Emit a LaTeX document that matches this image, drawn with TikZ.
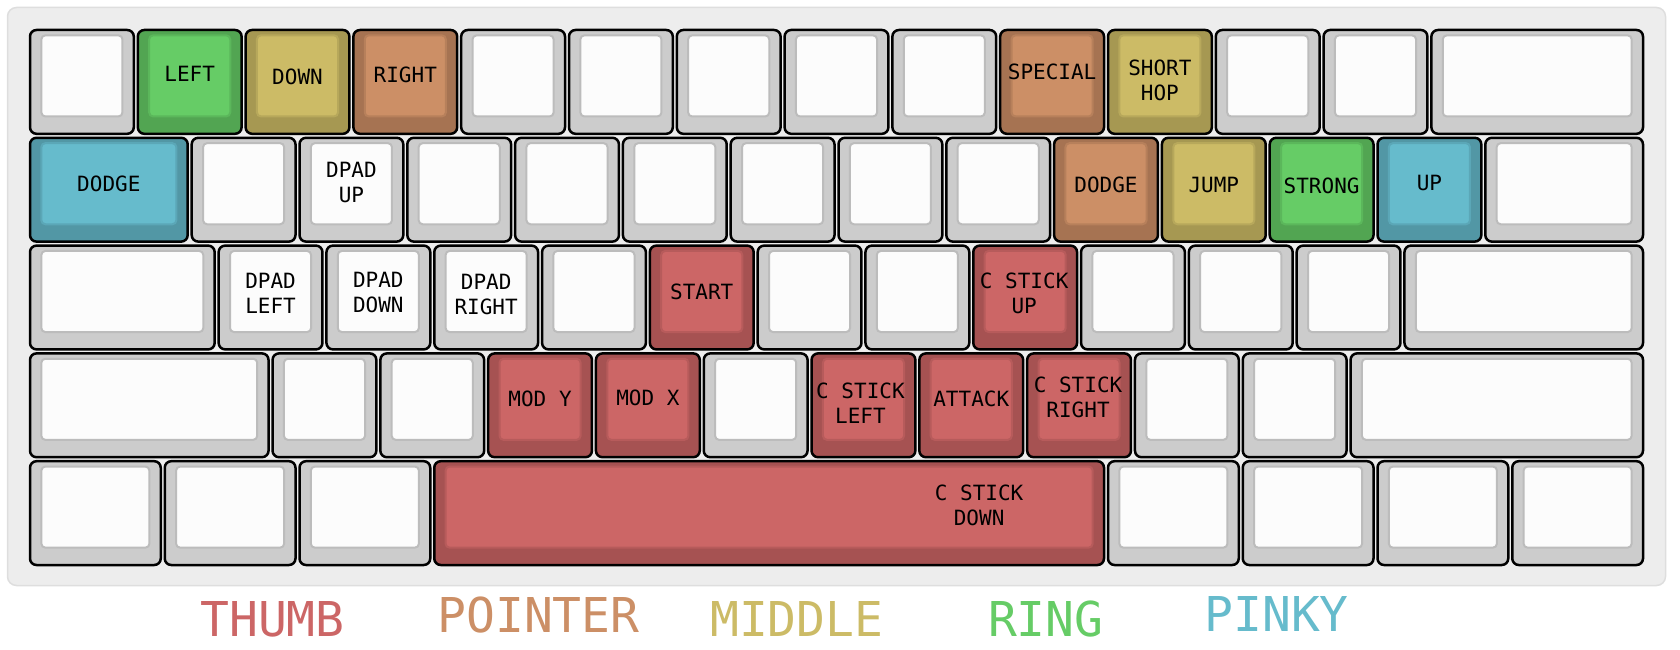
\documentclass[tikz,border=0pt]{standalone}
\usepackage{fontspec}
\newfontfamily\keyfont{DejaVu Sans Mono}

% finger colours: face, side, edge of the face
\definecolor{blankface}{HTML}{FCFCFC}
\definecolor{blankside}{HTML}{CCCCCC}
\definecolor{blankedge}{HTML}{BCBCBC}
\definecolor{thumbface}{HTML}{CC6666}
\definecolor{thumbside}{HTML}{A65252}
\colorlet{thumbedge}{thumbside!55!thumbface}
\definecolor{pointerface}{HTML}{CC8F66}
\definecolor{pointerside}{HTML}{A67352}
\colorlet{pointeredge}{pointerside!55!pointerface}
\definecolor{middleface}{HTML}{CCBB66}
\definecolor{middleside}{HTML}{A69852}
\colorlet{middleedge}{middleside!55!middleface}
\definecolor{ringface}{HTML}{66CC66}
\definecolor{ringside}{HTML}{52A552}
\colorlet{ringedge}{ringside!55!ringface}
\definecolor{pinkyface}{HTML}{66BBCC}
\definecolor{pinkyside}{HTML}{5297A5}
\colorlet{pinkyedge}{pinkyside!55!pinkyface}

% \kbkey[label shift]{name}{column}{row}{width}{finger}{label}
\newcommand{\kbkey}[7][]{%
  \pgfmathsetmacro{\kbx}{28+#3*107.8+2}%
  \pgfmathsetmacro{\kby}{28+#4*107.8+2}%
  \pgfmathsetmacro{\kbw}{#5*107.8-4}%
  \pgfmathsetmacro{\kbf}{\kbw-22.7}%
  \node[keycap, fill=#6side, minimum width=\kbw pt, anchor=north west] (#2) at (\kbx,\kby) {};%
  \node[keyface, fill=#6face, draw=#6edge, minimum width=\kbf pt, anchor=north] (#2-face) at ([yshift=-5.35pt]#2.north) {};%
  \node[keylabel, #1] (#2-label) at (#2-face) {#7};%
}

\begin{document}
\begin{tikzpicture}[
    x=1pt, y=-1pt,
    panel/.style={rectangle, draw=black!13, fill=black!7, line width=1.5pt, rounded corners=9pt, inner sep=0pt, outer sep=0pt},
    keycap/.style={rectangle, draw=black, line width=2.5pt, rounded corners=6.5pt, minimum height=103.8pt, inner sep=0pt, outer sep=0pt},
    keyface/.style={rectangle, line width=2pt, rounded corners=4pt, minimum height=81.1pt, inner sep=0pt, outer sep=0pt},
    keylabel/.style={font=\keyfont\fontsize{21pt}{25pt}\selectfont, align=center, inner sep=0pt, text=black},
    legend/.style={font=\keyfont\fontsize{48pt}{50pt}\selectfont, inner sep=0pt, anchor=base},
]
\useasboundingbox (0,0) rectangle (1680,650);

% Board
\node[panel, minimum width=1658pt, minimum height=578pt, anchor=north west] (board) at (7.5,7.5) {};

% Row 1
\kbkey{k1a}{0}{0}{1}{blank}{}
\kbkey[yshift=2pt]{left}{1}{0}{1}{ring}{LEFT}
\kbkey[yshift=-1.3pt]{down}{2}{0}{1}{middle}{DOWN}
\kbkey[yshift=1.2pt]{right}{3}{0}{1}{pointer}{RIGHT}
\kbkey{k1e}{4}{0}{1}{blank}{}
\kbkey{k1f}{5}{0}{1}{blank}{}
\kbkey{k1g}{6}{0}{1}{blank}{}
\kbkey{k1h}{7}{0}{1}{blank}{}
\kbkey{k1i}{8}{0}{1}{blank}{}
\kbkey[yshift=3.7pt]{special}{9}{0}{1}{pointer}{SPECIAL}
\kbkey[yshift=-4.6pt]{shorthop}{10}{0}{1}{middle}{SHORT\\HOP}
\kbkey{k1l}{11}{0}{1}{blank}{}
\kbkey{k1m}{12}{0}{1}{blank}{}
\kbkey{k1n}{13}{0}{2}{blank}{}

% Row 2
\kbkey{dodgel}{0}{1}{1.5}{pinky}{DODGE}
\kbkey{k2b}{1.5}{1}{1}{blank}{}
\kbkey[yshift=1.7pt]{dpadup}{2.5}{1}{1}{blank}{DPAD\\UP}
\kbkey{k2d}{3.5}{1}{1}{blank}{}
\kbkey{k2e}{4.5}{1}{1}{blank}{}
\kbkey{k2f}{5.5}{1}{1}{blank}{}
\kbkey{k2g}{6.5}{1}{1}{blank}{}
\kbkey{k2h}{7.5}{1}{1}{blank}{}
\kbkey{k2i}{8.5}{1}{1}{blank}{}
\kbkey[yshift=-1pt]{dodger}{9.5}{1}{1}{pointer}{DODGE}
\kbkey[yshift=-1pt]{jump}{10.5}{1}{1}{middle}{JUMP}
\kbkey[yshift=-2pt]{strong}{11.5}{1}{1}{ring}{STRONG}
\kbkey[yshift=1pt]{up}{12.5}{1}{1}{pinky}{UP}
\kbkey{k2n}{13.5}{1}{1.5}{blank}{}

% Row 3
\kbkey{k3a}{0}{2}{1.75}{blank}{}
\kbkey[yshift=-1.8pt]{dpadleft}{1.75}{2}{1}{blank}{DPAD\\LEFT}
\kbkey[yshift=-0.8pt]{dpaddown}{2.75}{2}{1}{blank}{DPAD\\DOWN}
\kbkey[yshift=-3.2pt]{dpadright}{3.75}{2}{1}{blank}{DPAD\\RIGHT}
\kbkey{k3e}{4.75}{2}{1}{blank}{}
\kbkey{start}{5.75}{2}{1}{thumb}{START}
\kbkey{k3g}{6.75}{2}{1}{blank}{}
\kbkey{k3h}{7.75}{2}{1}{blank}{}
\kbkey[xshift=-1pt, yshift=-2.2pt]{cup}{8.75}{2}{1}{thumb}{C STICK\\UP}
\kbkey{k3j}{9.75}{2}{1}{blank}{}
\kbkey{k3k}{10.75}{2}{1}{blank}{}
\kbkey{k3l}{11.75}{2}{1}{blank}{}
\kbkey{k3m}{12.75}{2}{2.25}{blank}{}

% Row 4
\kbkey{k4a}{0}{3}{2.25}{blank}{}
\kbkey{k4b}{2.25}{3}{1}{blank}{}
\kbkey{k4c}{3.25}{3}{1}{blank}{}
\kbkey[yshift=0.8pt]{mody}{4.25}{3}{1}{thumb}{MOD Y}
\kbkey[yshift=1.8pt]{modx}{5.25}{3}{1}{thumb}{MOD X}
\kbkey{k4f}{6.25}{3}{1}{blank}{}
\kbkey[xshift=-3pt, yshift=-4pt]{cleft}{7.25}{3}{1}{thumb}{C STICK\\LEFT}
\kbkey{attack}{8.25}{3}{1}{thumb}{ATTACK}
\kbkey[xshift=-1pt, yshift=1.5pt]{cright}{9.25}{3}{1}{thumb}{C STICK\\RIGHT}
\kbkey{k4j}{10.25}{3}{1}{blank}{}
\kbkey{k4k}{11.25}{3}{1}{blank}{}
\kbkey{k4l}{12.25}{3}{2.75}{blank}{}

% Row 5
\kbkey{k5a}{0}{4}{1.25}{blank}{}
\kbkey{k5b}{1.25}{4}{1.25}{blank}{}
\kbkey{k5c}{2.5}{4}{1.25}{blank}{}
\kbkey[xshift=210pt, yshift=2pt]{cdown}{3.75}{4}{6.25}{thumb}{C STICK\\DOWN}
\kbkey{k5e}{10}{4}{1.25}{blank}{}
\kbkey{k5f}{11.25}{4}{1.25}{blank}{}
\kbkey{k5g}{12.5}{4}{1.25}{blank}{}
\kbkey{k5h}{13.75}{4}{1.25}{blank}{}

% Legend
\node[legend, text=thumbface] (lthumb) at (272.5,636) {THUMB};
\node[legend, text=pointerface] (lpointer) at (538.5,632.7) {POINTER};
\node[legend, text=middleface] (lmiddle) at (796.8,636) {MIDDLE};
\node[legend, text=ringface] (lring) at (1045.8,636) {RING};
\node[legend, text=pinkyface] (lpinky) at (1276.6,631.7) {PINKY};

\end{tikzpicture}
\end{document}
